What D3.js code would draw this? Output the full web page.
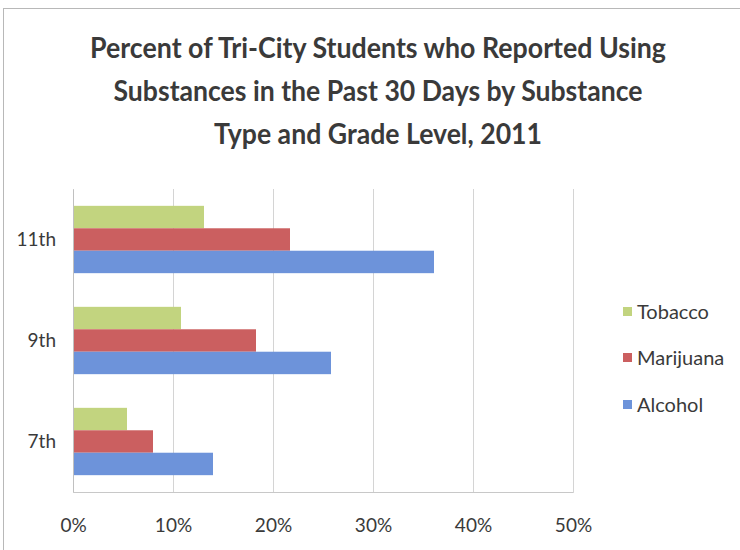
<!DOCTYPE html>
<html><head><meta charset="utf-8">
<script src="https://cdn.jsdelivr.net/npm/d3@7"></script>
<style>body{margin:0;background:#fff}text{font-family:Lato,"Open Sans",sans-serif;fill:#3a3a3a}</style>
</head><body><svg id="c" width="740" height="550"></svg>
<script>
const grades = ["11th", "9th", "7th"];
const series = ["Tobacco", "Marijuana", "Alcohol"];
const tobacco = [0.131, 0.108, 0.054];
const marijuana = [0.217, 0.183, 0.080];
const alcohol = [0.361, 0.258, 0.140];
const colors = ["#c2d47f", "#cb5f60", "#6d93da"];
const xTicks = [0, 0.1, 0.2, 0.3, 0.4, 0.5];
const titleLines = ["Percent of Tri-City Students who Reported Using", "Substances in the Past 30 Days by Substance", "Type and Grade Level, 2011"];

const values = [tobacco, marijuana, alcohol];
const svg = d3.select("#c");
svg.append("rect").attr("x", 3.5).attr("y", 8.5).attr("width", 760).attr("height", 600)
  .attr("fill", "#fff").attr("stroke", "#b8b8b8");

const x = d3.scaleLinear().domain([0, 0.5]).range([73, 573]);
const y = d3.scaleBand().domain(grades).range([189, 492]).padding(0);
const ys = d3.scaleBand().domain(series).range([0, y.bandwidth()]).paddingInner(0).paddingOuter(0.75);

// title
const tw = [576, 529, 328];
const tb = [58, 101, 144];
titleLines.forEach((t, i) => {
  svg.append("text").attr("x", 378).attr("y", tb[i]).attr("text-anchor", "middle")
    .attr("font-size", 28).attr("font-weight", "bold").attr("fill", "#333")
    .attr("textLength", tw[i]).attr("lengthAdjust", "spacingAndGlyphs").text(t);
});

// gridlines
const gx = svg.append("g").attr("transform", "translate(0,492)")
  .call(d3.axisBottom(x).tickValues(xTicks).tickSize(-(492 - 189)).tickFormat(d3.format(".0%")).tickPadding(27));
gx.select(".domain").attr("stroke", "#c8c8c8");
gx.selectAll(".tick line").attr("stroke", "#d4d4d4");
gx.selectAll(".tick text").attr("font-size", 19).attr("fill", "#3a3a3a").attr("font-family", "Lato");

// bars
grades.forEach((g, gi) => {
  series.forEach((s, si) => {
    svg.append("rect").attr("x", x(0)).attr("y", y(g) + ys(s))
      .attr("width", x(values[si][gi]) - x(0)).attr("height", ys.bandwidth())
      .attr("fill", colors[si]);
  });
});

const gy = svg.append("g").attr("transform", "translate(73,0)")
  .call(d3.axisLeft(y).tickSize(0).tickPadding(17));
gy.select(".domain").attr("stroke", "#c0c0c0");
gy.selectAll(".tick text").attr("font-size", 19).attr("fill", "#3a3a3a").attr("font-family", "Lato");

// legend
const ly = [312, 358, 405];
series.forEach((s, i) => {
  svg.append("rect").attr("x", 623).attr("y", ly[i] - 5).attr("width", 9).attr("height", 9).attr("fill", colors[i]);
  svg.append("text").attr("x", 637).attr("y", ly[i] + 7).attr("font-size", 20).text(s);
});
</script></body></html>
